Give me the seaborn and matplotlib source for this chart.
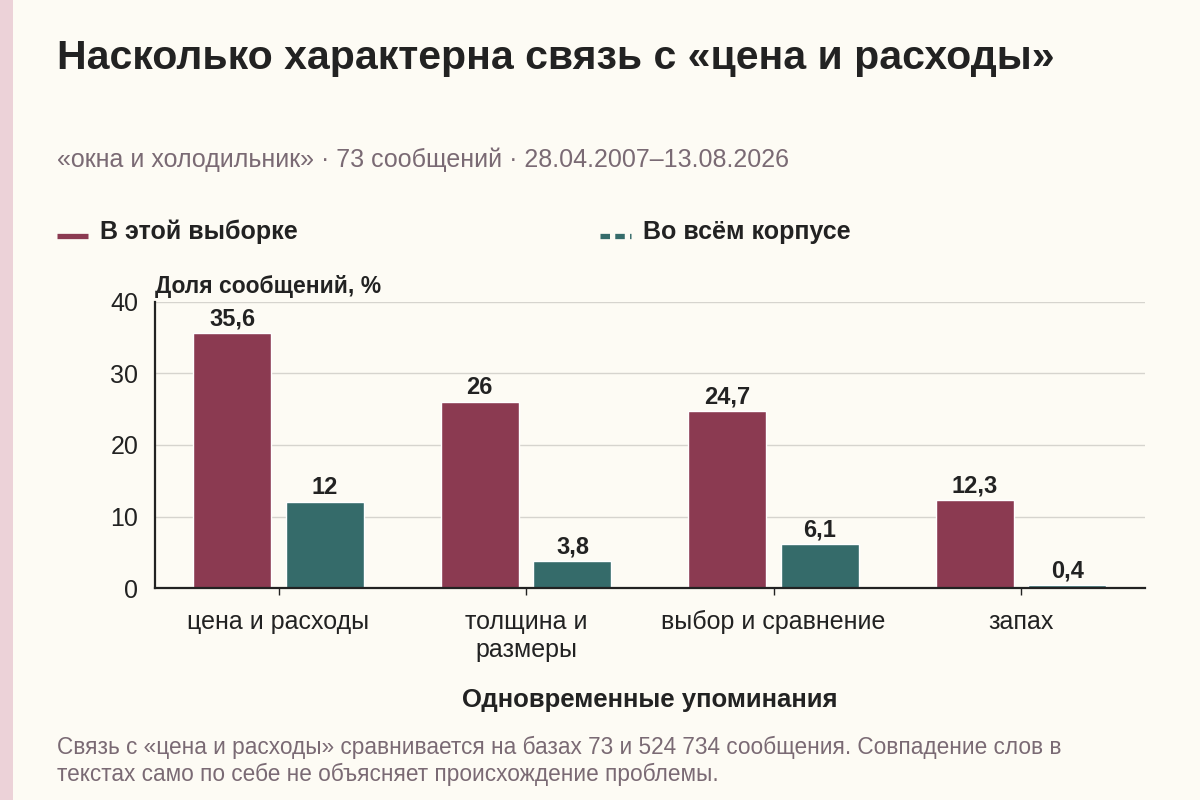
import matplotlib
matplotlib.use('Agg')
import matplotlib.pyplot as plt
import seaborn as sns
import pandas as pd
from matplotlib.lines import Line2D
from matplotlib.patches import Rectangle

# data
categories = ['цена и расходы', 'толщина и\nразмеры', 'выбор и сравнение', 'запах']
sample_share = [35.6, 26, 24.7, 12.3]
corpus_share = [12, 3.8, 6.1, 0.4]
series_names = ['В этой выборке', 'Во всём корпусе']

BG = '#fdfbf4'
MAROON = '#8b3a51'
TEAL = '#356b6a'
DARK = '#222222'
MUTED = '#7a6a74'

sns.set_theme(style='white')
plt.rcParams['font.family'] = ['Liberation Sans', 'DejaVu Sans']

df = pd.DataFrame({
    'cat': categories * 2,
    'val': sample_share + corpus_share,
    'series': [series_names[0]] * 4 + [series_names[1]] * 4,
})

fig = plt.figure(figsize=(12, 8), dpi=100, facecolor=BG)
ax = fig.add_axes([0.129, 0.265, 0.825, 0.3575])
ax.set_facecolor(BG)

sns.barplot(data=df, x='cat', y='val', hue='series', order=categories,
            hue_order=series_names, palette=[MAROON, TEAL], width=0.75,
            gap=0.16, saturation=1, legend=False, ax=ax)

# value labels
for cont in ax.containers:
    labels = [f'{v:g}'.replace('.', ',') for v in cont.datavalues]
    ax.bar_label(cont, labels=labels, padding=2, fontsize=17,
                 fontweight='bold', color=DARK)

ax.set_xlim(-0.5, 3.5)
ax.set_ylim(0, 40)
ax.set_yticks([0, 10, 20, 30, 40])
ax.yaxis.grid(True, color='#d6d4ce', linewidth=1)
ax.set_axisbelow(True)
for s in ['top', 'right']:
    ax.spines[s].set_visible(False)
for s in ['left', 'bottom']:
    ax.spines[s].set_color(DARK)
    ax.spines[s].set_linewidth(1.6)
ax.tick_params(axis='y', length=0, labelsize=18, labelcolor=DARK, pad=12)
ax.tick_params(axis='x', length=5, width=1, color=DARK, labelsize=18,
               labelcolor=DARK, pad=11, bottom=True)
ax.set_ylabel('')
ax.set_xlabel('Одновременные упоминания', fontsize=18.5, fontweight='bold',
              color=DARK, labelpad=19)
ax.text(0, 1.015, 'Доля сообщений, %', transform=ax.transAxes, fontsize=16.5,
        fontweight='bold', color=DARK, ha='left', va='bottom')

# left accent strip
fig.patches.append(Rectangle((0, 0), 13 / 1200, 1, transform=fig.transFigure,
                             facecolor='#ecd2d8', edgecolor='none'))

# titles
fig.text(57 / 1200, 1 - 58 / 800, 'Насколько характерна связь с «цена и расходы»',
         fontsize=29.5, fontweight='bold', color=DARK, va='center')
fig.text(57 / 1200, 1 - 160 / 800,
         '«окна и холодильник» · 73 сообщений · 28.04.2007–13.08.2026',
         fontsize=18, color=MUTED, va='center')

# legend
fig.add_artist(Line2D([57 / 1200, 88 / 1200], [1 - 236 / 800] * 2,
                      transform=fig.transFigure, color=MAROON, linewidth=3.8,
                      solid_capstyle='butt'))
fig.text(100 / 1200, 1 - 232 / 800, series_names[0], fontsize=18,
         fontweight='bold', color=DARK, va='center')
fig.add_artist(Line2D([600 / 1200, 631 / 1200], [1 - 236 / 800] * 2,
                      transform=fig.transFigure, color=TEAL, linewidth=3.8,
                      dashes=(1.8, 1.0), dash_capstyle='butt'))
fig.text(643 / 1200, 1 - 232 / 800, series_names[1], fontsize=18,
         fontweight='bold', color=DARK, va='center')

# footnote
fig.text(57 / 1200, 1 - 761 / 800,
         'Связь с «цена и расходы» сравнивается на базах 73 и 524 734 сообщения. Совпадение слов в\n'
         'текстах само по себе не объясняет происхождение проблемы.',
         fontsize=16.3, color=MUTED, va='center', linespacing=1.25)

fig.savefig('out.png', dpi=100, facecolor=BG)
